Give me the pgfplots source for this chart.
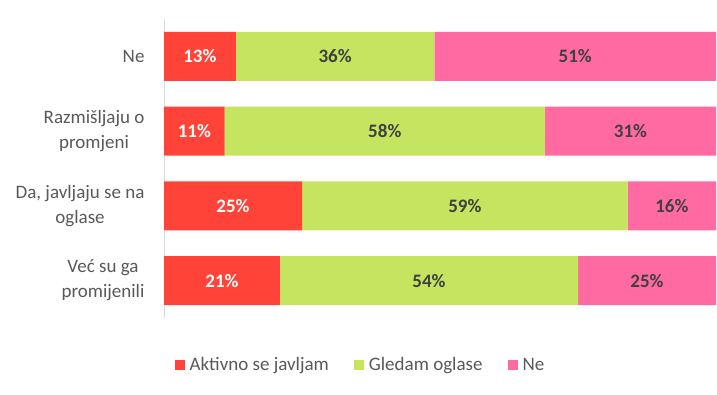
\documentclass[border=0pt]{standalone}
\usepackage{pgfplots}
\usepackage{pgfplotstable}
\pgfplotsset{compat=1.18}
\usepackage{fontspec}
\setmainfont{Carlito}
\definecolor{cred}{RGB}{255,67,56}
\definecolor{cgreen}{RGB}{197,228,96}
\definecolor{cpink}{RGB}{255,106,162}
\definecolor{ctext}{RGB}{89,89,89}
\definecolor{cdark}{RGB}{64,64,64}
\definecolor{caxis}{RGB}{217,217,217}
\pgfplotstableread{
y a b c
0 13 36 51
1 11 58 31
2 25 59 16
3 21 54 25
}\data
\begin{document}
\begin{tikzpicture}
\useasboundingbox (0,0) rectangle (717pt,394pt);
\begin{axis}[
  at={(164pt,76pt)}, anchor=south west,
  scale only axis, width=552pt, height=299pt,
  xbar stacked, bar width=49pt,
  xmin=0, xmax=100, ymin=-0.5, ymax=3.5, y dir=reverse,
  axis x line=none, axis y line*=left,
  y axis line style={draw=caxis, line width=0.8pt, -},
  ytick={0,1,2,3}, major tick length=0pt,
  yticklabels={Ne,{Razmišljaju o\\promjeni},{Da, javljaju se na\\oglase},{Već su ga\\promijenili}},
  yticklabel style={align=center, font=\fontsize{19pt}{25pt}\selectfont, text=ctext, xshift=-16pt},
  /pgf/number format/assume math mode=true,
  nodes near coords={\pgfmathprintnumber{\rawv}\%},
  every node near coord/.append style={anchor=center, font=\fontsize{19pt}{22pt}\selectfont\bfseries},
  legend columns=3,
  legend style={at={(axis description cs:0.355,-0.157)}, anchor=center, draw=none, font=\fontsize{19pt}{22pt}\selectfont, text=ctext,
    /tikz/every even column/.append style={column sep=24pt},
    /tikz/every odd column/.append style={column sep=4pt},
    nodes={inner sep=1pt}},
  legend image code/.code={\fill[#1] (0pt,-5pt) rectangle (10pt,5pt);},
]
\addplot[fill=cred, draw=none, visualization depends on={\thisrow{a} \as \rawv}, every node near coord/.append style={text=white}] table[x=a,y=y]{\data};
\addplot[fill=cgreen, draw=none, visualization depends on={\thisrow{b} \as \rawv}, every node near coord/.append style={text=cdark}] table[x=b,y=y]{\data};
\addplot[fill=cpink, draw=none, visualization depends on={\thisrow{c} \as \rawv}, every node near coord/.append style={text=cdark}] table[x=c,y=y]{\data};
\legend{Aktivno se javljam, Gledam oglase, Ne}
\end{axis}
\end{tikzpicture}
\end{document}
